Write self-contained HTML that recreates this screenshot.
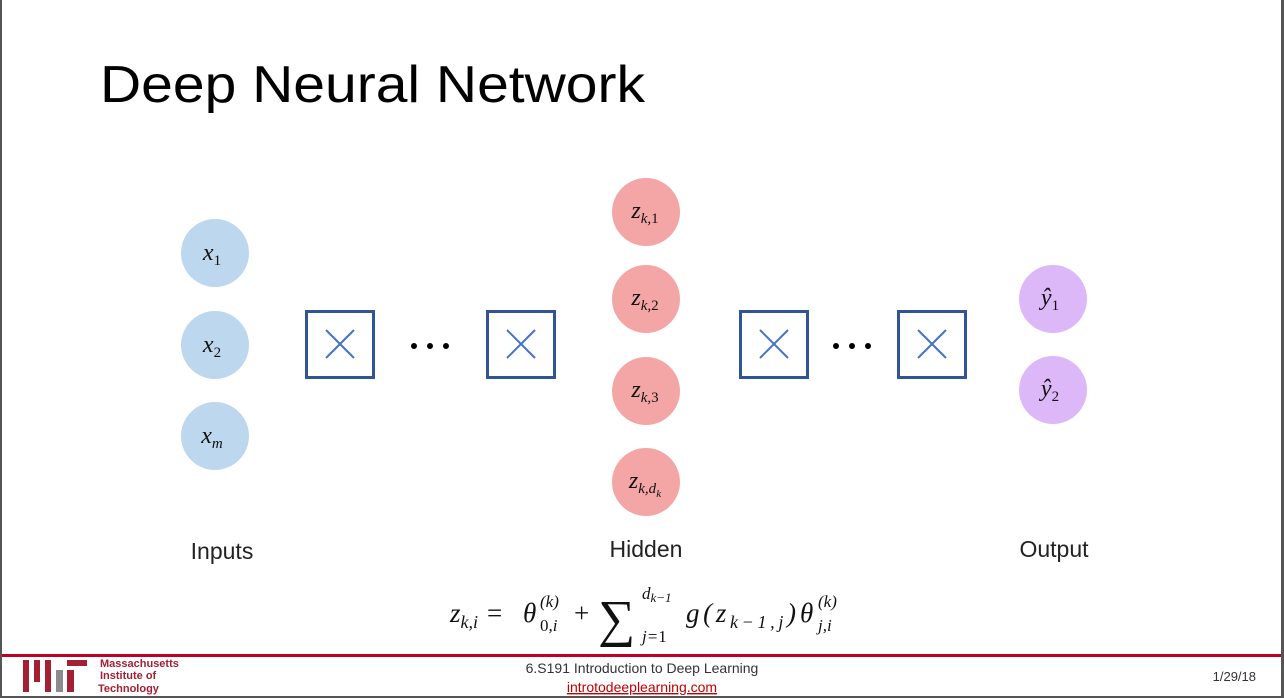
<!DOCTYPE html>
<html><head><meta charset="utf-8"><style>
html,body{margin:0;padding:0;background:#fff;}
svg{display:block;}
.m{font-family:"Liberation Serif","DejaVu Serif",serif;font-style:italic;}
.g{font-family:"Liberation Sans","DejaVu Sans",sans-serif;}
</style></head><body>
<svg width="1284" height="698" viewBox="0 0 1284 698">
<rect x="0" y="0" width="1284" height="698" fill="#fff"/>
<rect x="0" y="0" width="2" height="698" fill="#555"/>
<rect x="1281" y="0" width="3" height="698" fill="#555"/>
<rect x="0" y="696" width="1284" height="2" fill="#555"/>
<text x="100" y="102" font-size="52" class="g" fill="#000" textLength="545" lengthAdjust="spacingAndGlyphs">Deep Neural Network</text>

<g fill="#bdd7ee">
<circle cx="215" cy="253" r="34"/><circle cx="215" cy="345" r="34"/><circle cx="215" cy="436" r="34"/>
</g>
<g class="m" font-size="24" fill="#111" text-anchor="middle">
<text x="212" y="260">x<tspan font-size="15" dy="5" font-style="normal">1</tspan></text>
<text x="212" y="352">x<tspan font-size="15" dy="5" font-style="normal">2</tspan></text>
<text x="212" y="443">x<tspan font-size="15" dy="5">m</tspan></text>
</g>

<g fill="none" stroke="#2f5597" stroke-width="3">
<rect x="306.5" y="311.5" width="67" height="66"/><rect x="487.5" y="311.5" width="67" height="66"/>
<rect x="740.5" y="311.5" width="67" height="66"/><rect x="898.5" y="311.5" width="67" height="66"/>
</g>
<g stroke="#4472c4" stroke-width="2">
<path d="M326 330l28 28M354 330l-28 28"/><path d="M507 330l28 28M535 330l-28 28"/>
<path d="M760 330l28 28M788 330l-28 28"/><path d="M918 330l28 28M946 330l-28 28"/>
</g>
<g fill="#000">
<circle cx="414" cy="346" r="3"/><circle cx="430" cy="346" r="3"/><circle cx="446" cy="346" r="3"/>
<circle cx="836" cy="346" r="3"/><circle cx="852" cy="346" r="3"/><circle cx="868" cy="346" r="3"/>
</g>

<g fill="#f4a6a6">
<circle cx="646" cy="212" r="34"/><circle cx="646" cy="299" r="34"/><circle cx="646" cy="391" r="34"/><circle cx="646" cy="482" r="34"/>
</g>
<g class="m" font-size="24" fill="#111" text-anchor="middle">
<text x="645" y="218">z<tspan font-size="15" dy="5">k,</tspan><tspan font-style="normal" font-size="15">1</tspan></text>
<text x="645" y="305">z<tspan font-size="15" dy="5">k,</tspan><tspan font-style="normal" font-size="15">2</tspan></text>
<text x="645" y="397">z<tspan font-size="15" dy="5">k,</tspan><tspan font-style="normal" font-size="15">3</tspan></text>
<text x="645" y="488">z<tspan font-size="15" dy="5">k,d</tspan><tspan font-size="11" dy="4">k</tspan></text>
</g>

<g fill="#dcb8f8">
<circle cx="1053" cy="299" r="34"/><circle cx="1053" cy="390" r="34"/>
</g>
<g class="m" font-size="24" fill="#111" text-anchor="middle">
<text x="1050" y="305">ŷ<tspan font-size="15" dy="5" font-style="normal">1</tspan></text>
<text x="1050" y="396">ŷ<tspan font-size="15" dy="5" font-style="normal">2</tspan></text>
</g>

<g class="g" font-size="23" fill="#222" text-anchor="middle">
<text x="222" y="559">Inputs</text>
<text x="646" y="557">Hidden</text>
<text x="1054" y="557">Output</text>
</g>

<g class="m" font-size="27" fill="#111">
<text x="450" y="622">z<tspan font-size="18" dy="6">k,i</tspan></text>
<text x="487" y="622" font-style="normal">=</text>
<text x="523" y="622">θ</text>
<text x="540" y="607" font-size="17">(k)</text>
<text x="540" y="631" font-size="17"><tspan font-style="normal">0</tspan>,i</text>
<text x="574" y="622" font-style="normal">+</text>
<text x="598" y="636" font-size="52" font-style="normal">∑</text>
<text x="642" y="599" font-size="17">d<tspan font-size="13" dy="3">k−1</tspan></text>
<text x="642" y="642" font-size="17">j=<tspan font-style="normal">1</tspan></text>
<text x="686" y="622" textLength="110" lengthAdjust="spacing">g(z<tspan font-size="18" dy="6">k−1,j</tspan><tspan dy="-6">)</tspan></text>
<text x="800" y="622">θ</text>
<text x="818" y="607" font-size="17">(k)</text>
<text x="818" y="631" font-size="17">j,i</text>
</g>

<rect x="2" y="654" width="1279" height="3" fill="#c00020"/>
<g>
<rect x="23" y="660" width="6" height="32" fill="#a31f34"/>
<rect x="34" y="660" width="6" height="22" fill="#a31f34"/>
<rect x="45" y="660" width="6" height="32" fill="#a31f34"/>
<rect x="56" y="670" width="7" height="22" fill="#8a8b8c"/>
<rect x="67" y="660" width="20" height="6" fill="#a31f34"/>
<rect x="67" y="670" width="7" height="22" fill="#a31f34"/>
<text x="100" y="667" font-size="11" font-weight="bold" fill="#a31f34" font-family="Liberation Sans,sans-serif">Massachusetts</text>
<text x="100" y="679" font-size="11" font-weight="bold" fill="#a31f34" font-family="Liberation Sans,sans-serif">Institute of</text>
<text x="98" y="692" font-size="11" font-weight="bold" fill="#a31f34" font-family="Liberation Sans,sans-serif">Technology</text>
</g>
<text x="642" y="673" font-size="14" fill="#333" text-anchor="middle" class="g">6.S191 Introduction to Deep Learning</text>
<text x="642" y="692" font-size="14" fill="#c00000" text-anchor="middle" text-decoration="underline" class="g">introtodeeplearning.com</text>
<text x="1256" y="681" font-size="13" fill="#333" text-anchor="end" class="g">1/29/18</text>
</svg>
</body></html>
